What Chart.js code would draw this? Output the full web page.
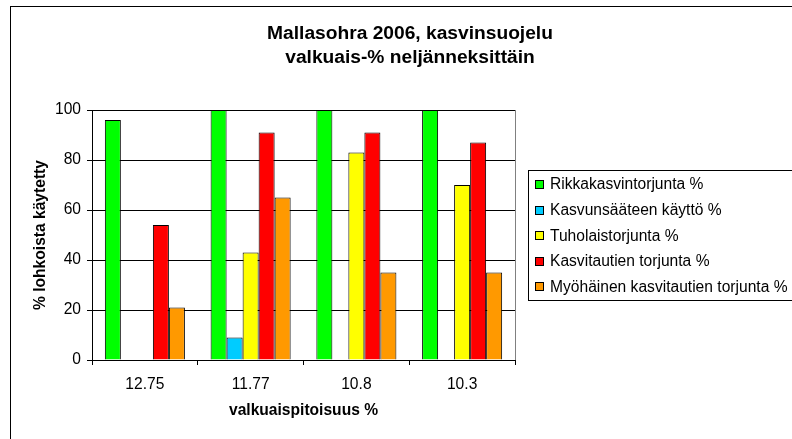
<!DOCTYPE html>
<html>
<head>
<meta charset="utf-8">
<script src="https://cdn.jsdelivr.net/npm/chart.js@4/dist/chart.umd.min.js"></script>
<style>
html,body{margin:0;padding:0;background:#fff;}
#wrap{width:792px;height:439px;position:relative;}
</style>
</head>
<body>
<div id="wrap"><canvas id="c" width="792" height="439"></canvas></div>
<script>
const titleLines = ["Mallasohra 2006, kasvinsuojelu", "valkuais-% neljänneksittäin"];
const categories = ["12.75", "11.77", "10.8", "10.3"];
const seriesNames = ["Rikkakasvintorjunta %", "Kasvunsääteen käyttö %", "Tuholaistorjunta %", "Kasvitautien torjunta %", "Myöhäinen kasvitautien torjunta %"];
const seriesColors = ["#00FF00", "#00CCFF", "#FFFF00", "#FF0000", "#FF9900"];
const rikkakasvi = [96, 100, 100, 100];
const kasvunsaate = [null, 9, null, null];
const tuholais = [null, 43, 83, 70];
const kasvitauti = [54, 91, 91, 87];
const myohainen = [21, 65, 35, 35];
const yTicks = [0, 20, 40, 60, 80, 100];
const xTitle = "valkuaispitoisuus %";
const yTitle = "% lohkoista käytetty";

const FONT = "'Liberation Sans', Arial, sans-serif";
const FS = 15.6;
const seriesData = [rikkakasvi, kasvunsaate, tuholais, kasvitauti, myohainen];

const decor = {
  id: 'decor',
  beforeDraw(chart) {
    const ctx = chart.ctx;
    ctx.save();
    ctx.fillStyle = '#fff';
    ctx.fillRect(0, 0, chart.width, chart.height);
    ctx.strokeStyle = '#000';
    ctx.lineWidth = 1;
    ctx.strokeRect(10.5, 6.5, 900, 600);
    ctx.restore();
  },
  afterDraw(chart) {
    const ctx = chart.ctx;
    const ca = chart.chartArea;
    ctx.save();
    ctx.strokeStyle = '#808080';
    ctx.lineWidth = 1;
    ctx.beginPath();
    ctx.moveTo(Math.round(ca.right) + 0.5, ca.top);
    ctx.lineTo(Math.round(ca.right) + 0.5, ca.bottom);
    ctx.stroke();
    ctx.fillStyle = '#000';
    ctx.font = "bold 19.2px " + FONT;
    ctx.textAlign = 'center';
    ctx.textBaseline = 'middle';
    ctx.fillText(titleLines[0], 410, 34);
    ctx.fillText(titleLines[1], 410, 58);
    ctx.strokeStyle = '#000';
    ctx.strokeRect(528.5, 170.5, 400, 130);
    ctx.font = FS + "px " + FONT;
    ctx.textAlign = 'left';
    chart.data.datasets.forEach((ds, i) => {
      const cy = 185 + i * 25.6;
      ctx.fillStyle = ds.backgroundColor;
      ctx.fillRect(535.5, Math.round(cy) - 4.5, 8, 8);
      ctx.strokeStyle = '#000';
      ctx.strokeRect(535.5, Math.round(cy) - 4.5, 8, 8);
      ctx.fillStyle = '#000';
      ctx.fillText(ds.label, 550, cy);
    });
    ctx.restore();
  }
};

new Chart(document.getElementById('c'), {
  type: 'bar',
  data: {
    labels: categories,
    datasets: seriesNames.map((n, i) => ({
      label: n,
      data: seriesData[i],
      backgroundColor: seriesColors[i],
      borderColor: '#000',
      borderWidth: 1,
      borderSkipped: 'start',
      categoryPercentage: 0.757,
      barPercentage: 1
    }))
  },
  options: {
    responsive: false,
    animation: false,
    devicePixelRatio: 1,
    layout: { padding: { left: 10, right: 277, top: 110, bottom: 0 } },
    plugins: { legend: { display: false }, title: { display: false }, tooltip: { enabled: false } },
    scales: {
      x: {
        grid: { display: true, drawOnChartArea: false, offset: true, color: '#000', tickLength: 5, tickColor: '#000' },
        border: { display: true, color: '#000', width: 1 },
        ticks: { color: '#000', font: { family: FONT, size: FS }, padding: 10, maxRotation: 0 },
        title: { display: true, text: xTitle, color: '#000', font: { family: FONT, size: FS, weight: 'bold' }, padding: { top: 0, bottom: 19 } },
        afterFit(scale) { scale.height = 79; }
      },
      y: {
        min: 0, max: 100,
        afterBuildTicks(scale) { scale.ticks = yTicks.map(v => ({ value: v })); },
        grid: { color: '#000', tickLength: 5, tickColor: '#000' },
        border: { display: true, color: '#000', width: 1 },
        ticks: { color: '#000', font: { family: FONT, size: FS }, padding: 6 },
        title: { display: true, text: yTitle, color: '#000', font: { family: FONT, size: FS, weight: 'bold' }, padding: { top: 21, bottom: 0 } },
        afterFit(scale) { scale.width = 82; }
      }
    }
  },
  plugins: [decor]
});
</script>
</body>
</html>
